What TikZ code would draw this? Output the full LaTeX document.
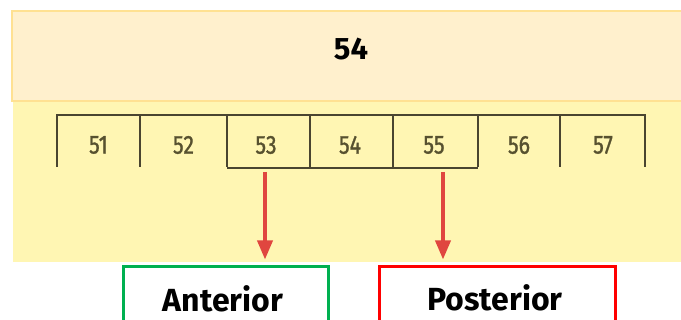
\documentclass[tikz,border=0pt]{standalone}
\usepackage{fontspec}
\setmainfont{Fira Sans}
\newfontfamily\numfont{Fira Sans}[FakeBold=1.2]
\usetikzlibrary{arrows.meta,positioning}
\definecolor{topfill}{HTML}{FFF0CD}
\definecolor{topline}{HTML}{FFE192}
\definecolor{band}{HTML}{FFF6B3}
\definecolor{lineol}{HTML}{4A4530}
\definecolor{numcol}{HTML}{57512F}
\definecolor{arrred}{HTML}{E0463F}
\definecolor{grn}{HTML}{00B050}
\definecolor{rd}{HTML}{FF0000}
\tikzset{
  cellnum/.style={font=\numfont\fontsize{26}{26}\selectfont, text=numcol, xscale=0.82, inner sep=0pt},
  redarrow/.style={draw=arrred, line width=3.6pt, -{Triangle[width=15pt,length=19pt]}, shorten >=6pt, shorten <=5pt},
  labbox/.style={line width=3pt, fill=white, inner sep=0pt},
  bigtext/.style={font=\fontsize{32}{32}\selectfont\bfseries, text=black, inner sep=0pt},
  numline/.style={lineol, line width=2.8pt}
}
\begin{document}
\begin{tikzpicture}[x=1pt,y=-1pt]
\useasboundingbox (0,0) rectangle (681,320);
% yellow band
\fill[band] (13,101) rectangle (681,262);
% top box
\node[draw=topline, line width=2pt, fill=topfill, minimum width=680pt, minimum height=90pt, anchor=north west, inner sep=0pt] (top) at (11,10) {};
\node[bigtext, font=\fontsize{31}{31}\selectfont\bfseries] (title) at (351,49) {54};
% number line
\draw[numline] (57,167) -- (57,115) -- (645,115) -- (645,167);
\foreach \x in {140,227,310,393,478,560} {\draw[numline] (\x,115) -- (\x,167);}
\draw[numline] (227,168) -- (478,168);
% cell nodes
\node[minimum width=83pt, minimum height=52pt, inner sep=0pt] (c51) at (98.5,141) {};
\node[minimum width=87pt, minimum height=52pt, inner sep=0pt] (c52) at (183.5,141) {};
\node[minimum width=83pt, minimum height=52pt, inner sep=0pt] (c53) at (268.5,141) {};
\node[minimum width=83pt, minimum height=52pt, inner sep=0pt] (c54) at (351.5,141) {};
\node[minimum width=85pt, minimum height=52pt, inner sep=0pt] (c55) at (435.5,141) {};
\node[minimum width=82pt, minimum height=52pt, inner sep=0pt] (c56) at (519,141) {};
\node[minimum width=85pt, minimum height=52pt, inner sep=0pt] (c57) at (602.5,141) {};
\node[cellnum] (n51) at (98.5,145) {51};
\node[cellnum] (n52) at (183.5,145) {52};
\node[cellnum] (n53) at (266,145) {53};
\node[cellnum] (n54) at (350,145) {54};
\node[cellnum] (n55) at (434,145) {55};
\node[cellnum] (n56) at (519,145) {56};
\node[cellnum] (n57) at (603,145) {57};
% label boxes
\node[labbox, draw=grn, minimum width=205pt, minimum height=66pt, anchor=north west] (ant) at (121.5,265.5) {};
\node[labbox, draw=rd, minimum width=236pt, minimum height=66pt, anchor=north west] (pos) at (377.5,265.5) {};
\node[bigtext] (antt) at (223,299) {Anterior};
\node[bigtext] (post) at (495,298) {Posterior};
% arrows
\coordinate (a1) at (265,167);
\coordinate (a2) at (443,167);
\draw[redarrow] (a1) -- (a1 |- ant.north);
\draw[redarrow] (a2) -- (a2 |- pos.north);
\end{tikzpicture}
\end{document}
